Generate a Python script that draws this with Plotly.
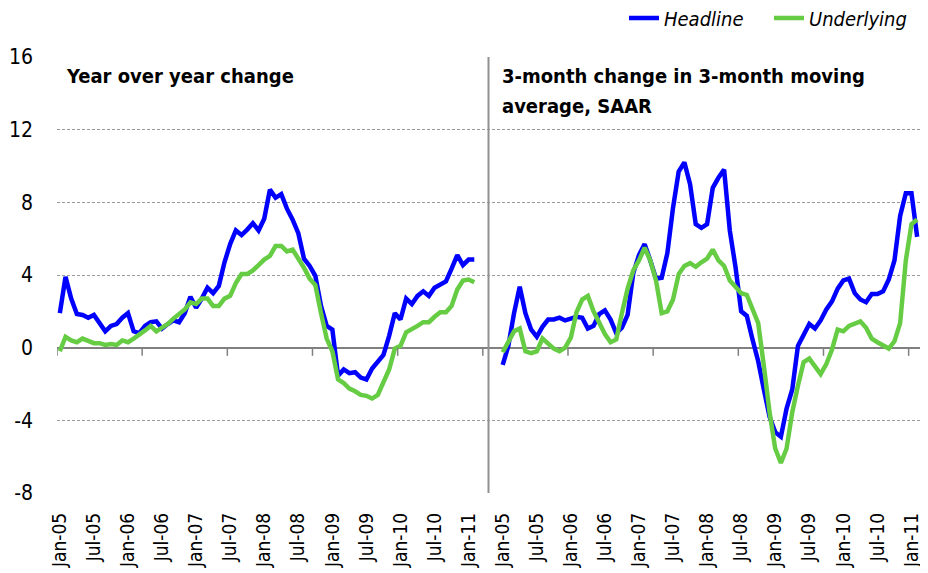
import plotly.graph_objects as go

# ---- data (monthly, Jan-05 .. Feb-11) ----
month_labels = ["Jan-05", "Jul-05", "Jan-06", "Jul-06", "Jan-07", "Jul-07", "Jan-08",
                "Jul-08", "Jan-09", "Jul-09", "Jan-10", "Jul-10", "Jan-11"]

headline_yoy = [1.9, 3.9, 2.7, 1.85, 1.8, 1.65, 1.8, 1.35, 0.9, 1.2,
                1.3, 1.65, 1.9, 0.9, 0.8, 1.2, 1.4, 1.45, 1.05, 1.3,
                1.5, 1.4, 1.9, 2.8, 2.2, 2.7, 3.3, 3.0, 3.4, 4.7,
                5.7, 6.45, 6.2, 6.5, 6.85, 6.45, 7.1, 8.7, 8.25, 8.45,
                7.65, 7.05, 6.3, 4.9, 4.5, 3.95, 2.3, 1.2, 1.0, -1.55,
                -1.2, -1.4, -1.35, -1.65, -1.75, -1.15, -0.75, -0.4, 0.65, 1.9,
                1.55, 2.7, 2.4, 2.85, 3.1, 2.85, 3.3, 3.5, 3.65, 4.35,
                5.1, 4.55, 4.85, 4.85]

underlying_yoy = [-0.2, 0.6, 0.4, 0.3, 0.5, 0.35, 0.25, 0.25, 0.15, 0.2,
                  0.15, 0.4, 0.3, 0.5, 0.7, 0.95, 1.2, 0.9, 1.1, 1.3,
                  1.6, 1.85, 2.1, 2.5, 2.4, 2.7, 2.7, 2.3, 2.3, 2.7,
                  2.85, 3.55, 4.05, 4.05, 4.25, 4.55, 4.85, 5.05, 5.6, 5.6,
                  5.3, 5.4, 4.95, 4.4, 3.8, 3.45, 1.9, 0.5, -0.2, -1.75,
                  -1.95, -2.25, -2.4, -2.6, -2.65, -2.8, -2.6, -1.9, -1.2, -0.05,
                  0.1, 0.85, 1.0, 1.2, 1.4, 1.4, 1.7, 1.95, 1.95, 2.3,
                  3.2, 3.7, 3.75, 3.6]

headline_3m = [-0.95, 0.1, 1.9, 3.35, 1.9, 1.0, 0.6, 1.15, 1.55, 1.55,
               1.65, 1.5, 1.6, 1.7, 1.65, 1.05, 1.2, 1.85, 2.05, 1.55,
               0.8, 1.1, 1.8, 4.1, 5.1, 5.7, 4.8, 3.8, 3.85, 5.2,
               7.7, 9.7, 10.2, 9.0, 6.8, 6.6, 6.8, 8.8, 9.35, 9.8,
               6.45, 4.45, 2.0, 1.75, 0.45, -0.75, -2.3, -3.8, -4.65, -4.9,
               -3.35, -2.3, 0.1, 0.65, 1.3, 1.05, 1.5, 2.1, 2.55, 3.25,
               3.7, 3.8, 3.0, 2.65, 2.5, 2.95, 2.95, 3.1, 3.75, 4.8,
               7.25, 8.5, 8.5, 6.1]

underlying_3m = [-0.25, 0.3, 0.9, 1.05, -0.2, -0.3, -0.2, 0.5, 0.25, -0.05,
                 -0.2, 0.0, 0.55, 1.95, 2.65, 2.85, 2.0, 1.35, 0.75, 0.3,
                 0.45, 1.9, 3.25, 4.25, 4.8, 5.5, 4.8, 3.7, 1.9, 2.0,
                 2.65, 4.05, 4.5, 4.65, 4.45, 4.7, 4.9, 5.4, 4.8, 4.5,
                 3.7, 3.35, 3.0, 2.9, 2.1, 1.35, -1.0, -3.55, -5.55, -6.35,
                 -5.55, -3.55, -2.1, -0.8, -0.6, -1.05, -1.45, -0.9, -0.1, 1.0,
                 0.9, 1.2, 1.35, 1.45, 1.1, 0.5, 0.3, 0.15, -0.05, 0.35,
                 1.35, 4.8, 6.8, 7.05]

y_ticks = [-8, -4, 0, 4, 8, 12, 16]
y_tick_labels = ["-8", "-4", "0", "4", "8", "12", "16"]

# ---- positions on a single category axis: left panel, 4 empty slots, right panel ----
GAP = 4
n = len(headline_yoy)
x_left = list(range(n))
x_right = [n + GAP + i for i in range(len(headline_3m))]
total = n + GAP + len(headline_3m)

tickvals = [6 * i for i in range(len(month_labels))] + [n + GAP + 6 * i for i in range(len(month_labels))]
ticktext = month_labels + month_labels

BLUE = "#0000FF"
GREEN = "#66CC44"
FONT = "DejaVu Sans Condensed, Liberation Sans Narrow, sans-serif"

# the page adds an 8px body margin, so the figure is 8px smaller than the window
W, H = 920, 565

fig = go.Figure()
fig.add_trace(go.Scatter(x=x_left, y=headline_yoy, mode="lines", name="Headline",
                         line=dict(color=BLUE, width=4.5), legendgroup="h"))
fig.add_trace(go.Scatter(x=x_right, y=headline_3m, mode="lines", name="Headline",
                         line=dict(color=BLUE, width=4.5), legendgroup="h", showlegend=False))
fig.add_trace(go.Scatter(x=x_left, y=underlying_yoy, mode="lines", name="Underlying",
                         line=dict(color=GREEN, width=4.5), legendgroup="u"))
fig.add_trace(go.Scatter(x=x_right, y=underlying_3m, mode="lines", name="Underlying",
                         line=dict(color=GREEN, width=4.5), legendgroup="u", showlegend=False))

shapes = []
# divider between panels
shapes.append(dict(type="line", xref="x", yref="paper", x0=n + GAP / 2 - 0.5, x1=n + GAP / 2 - 0.5,
                   y0=0, y1=1, line=dict(color="#909090", width=2)))
# small category tick marks hanging from the zero line (every 15 categories)
for k in range(int(total / 15) + 1):
    xv = -0.5 + 15 * k
    if xv <= total - 0.5:
        shapes.append(dict(type="line", xref="x", yref="y", x0=xv, x1=xv, y0=0, y1=-0.45,
                           line=dict(color="#808080", width=1.5)))

TITLE_FONT = dict(family=FONT, size=20, color="#000000")
annotations = [
    dict(text="<b>Year over year change</b>", xref="x", yref="y", x=0.8, y=15.75,
         xanchor="left", yanchor="top", showarrow=False, font=TITLE_FONT, align="left"),
    dict(text="<b>3-month change in 3-month moving</b>", xref="x", yref="y",
         x=n + GAP - 0.5, y=15.75, xanchor="left", yanchor="top", showarrow=False,
         font=TITLE_FONT, align="left"),
    dict(text="<b>average, SAAR</b>", xref="x", yref="y",
         x=n + GAP - 0.5, y=15.75 - 30 / 18.17, xanchor="left", yanchor="top", showarrow=False,
         font=TITLE_FONT, align="left"),
]

fig.update_layout(
    width=W, height=H,
    margin=dict(l=49, r=8, t=49, b=80, autoexpand=False),
    paper_bgcolor="white", plot_bgcolor="white",
    font=dict(family=FONT, color="#000000"),
    shapes=shapes, annotations=annotations,
    legend=dict(orientation="h", xref="container", yref="container",
                x=616 / W, xanchor="left", y=1 - 10 / H, yanchor="middle",
                entrywidth=100, entrywidthmode="pixels",
                font=dict(family=FONT, size=20, style="italic", color="#000000"),
                bgcolor="rgba(0,0,0,0)", itemwidth=30, tracegroupgap=0),
    showlegend=True,
)
fig.update_xaxes(range=[-0.5, total - 0.5], tickmode="array", tickvals=tickvals, ticktext=ticktext,
                 tickangle=-90, showgrid=False, zeroline=False, showline=False, ticks="",
                 automargin=False,
                 tickfont=dict(family=FONT, size=19, color="#000000"), ticklabelstandoff=15)
fig.update_yaxes(range=[-8, 16], tickmode="array", tickvals=y_ticks, ticktext=y_tick_labels,
                 showgrid=True, gridcolor="#9a9a9a", gridwidth=1, griddash="3px,2px",
                 zeroline=True, zerolinecolor="#808080", zerolinewidth=2, automargin=False,
                 showline=False, ticks="", tickfont=dict(family=FONT, size=21, color="#000000"),
                 ticklabelstandoff=23)

fig.write_html("out.html")
